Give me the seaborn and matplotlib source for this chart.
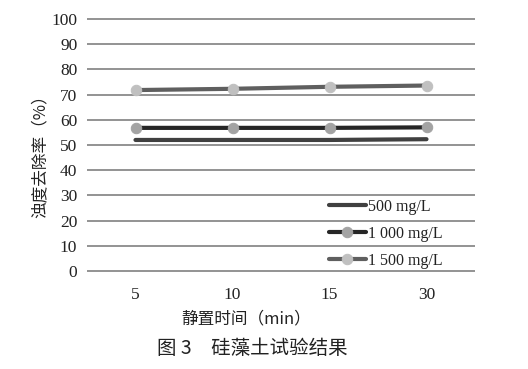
import matplotlib
matplotlib.use('Agg')
import matplotlib.pyplot as plt
import seaborn as sns

times = ['5', '10', '15', '30']
dose_labels = ['500 mg/L', '1 000 mg/L', '1 500 mg/L']
removal_500 = [52.0, 52.0, 52.0, 52.3]
removal_1000 = [56.8, 56.8, 56.8, 57.0]
removal_1500 = [71.8, 72.3, 73.1, 73.6]
yticks = [0, 10, 20, 30, 40, 50, 60, 70, 80, 90, 100]

sns.set_style('white')
serif = ['Liberation Serif', 'DejaVu Serif']
cjk = ['Noto Sans CJK SC', 'DejaVu Sans']

fig = plt.figure(figsize=(5.28, 3.69), dpi=100)
ax = fig.add_axes([87 / 528, 1 - 272 / 369, 388 / 528, (272 - 18) / 369])

sns.lineplot(x=times, y=removal_500, ax=ax, color='#404040', linewidth=3,
             label=dose_labels[0], sort=False)
sns.lineplot(x=times, y=removal_1000, ax=ax, color='#262626', linewidth=3,
             marker='o', markersize=7.5, markerfacecolor='#a3a3a3',
             markeredgecolor='#a3a3a3', label=dose_labels[1], sort=False)
sns.lineplot(x=times, y=removal_1500, ax=ax, color='#5f5f5f', linewidth=3,
             marker='o', markersize=7.5, markerfacecolor='#c0c0c0',
             markeredgecolor='#c0c0c0', label=dose_labels[2], sort=False)

ax.set_xlim(-0.5, 3.5)
ax.set_ylim(-0.4, 100.4)
ax.set_yticks(yticks)
for y in yticks:
    ax.axhline(y, color='#8a8a8a', linewidth=1.3, zorder=0)
for s in ax.spines.values():
    s.set_visible(False)
ax.tick_params(length=0)
ax.tick_params(axis='x', pad=11)
ax.tick_params(axis='y', pad=7)
for t in ax.get_xticklabels() + ax.get_yticklabels():
    t.set_family(serif)
    t.set_fontsize(12.5)
    t.set_color('#222222')

ax.set_xlabel('')
ax.set_ylabel('')
fig.text(246 / 528, 1 - 319 / 369, '静置时间（min）', family=cjk, fontsize=12,
         ha='center', va='center', color='#222222')
fig.text(40 / 528, 1 - 152 / 369, '浊度去除率（%）', family=cjk, fontsize=12,
         ha='center', va='center', rotation=90, color='#222222')
fig.text(252 / 528, 1 - 349 / 369, '图 3　硅藻土试验结果', family=cjk, fontsize=14,
         ha='center', va='center', color='#222222')

leg = ax.legend(loc='upper left', bbox_to_anchor=(329 / 528, 1 - 199 / 369),
                bbox_transform=fig.transFigure, frameon=False, borderpad=0,
                borderaxespad=0, handlelength=2.3, handletextpad=0.15,
                labelspacing=0.68, prop={'family': serif, 'size': 11.5})
for t in leg.get_texts():
    t.set_color('#222222')

fig.savefig('out.png', dpi=100)
